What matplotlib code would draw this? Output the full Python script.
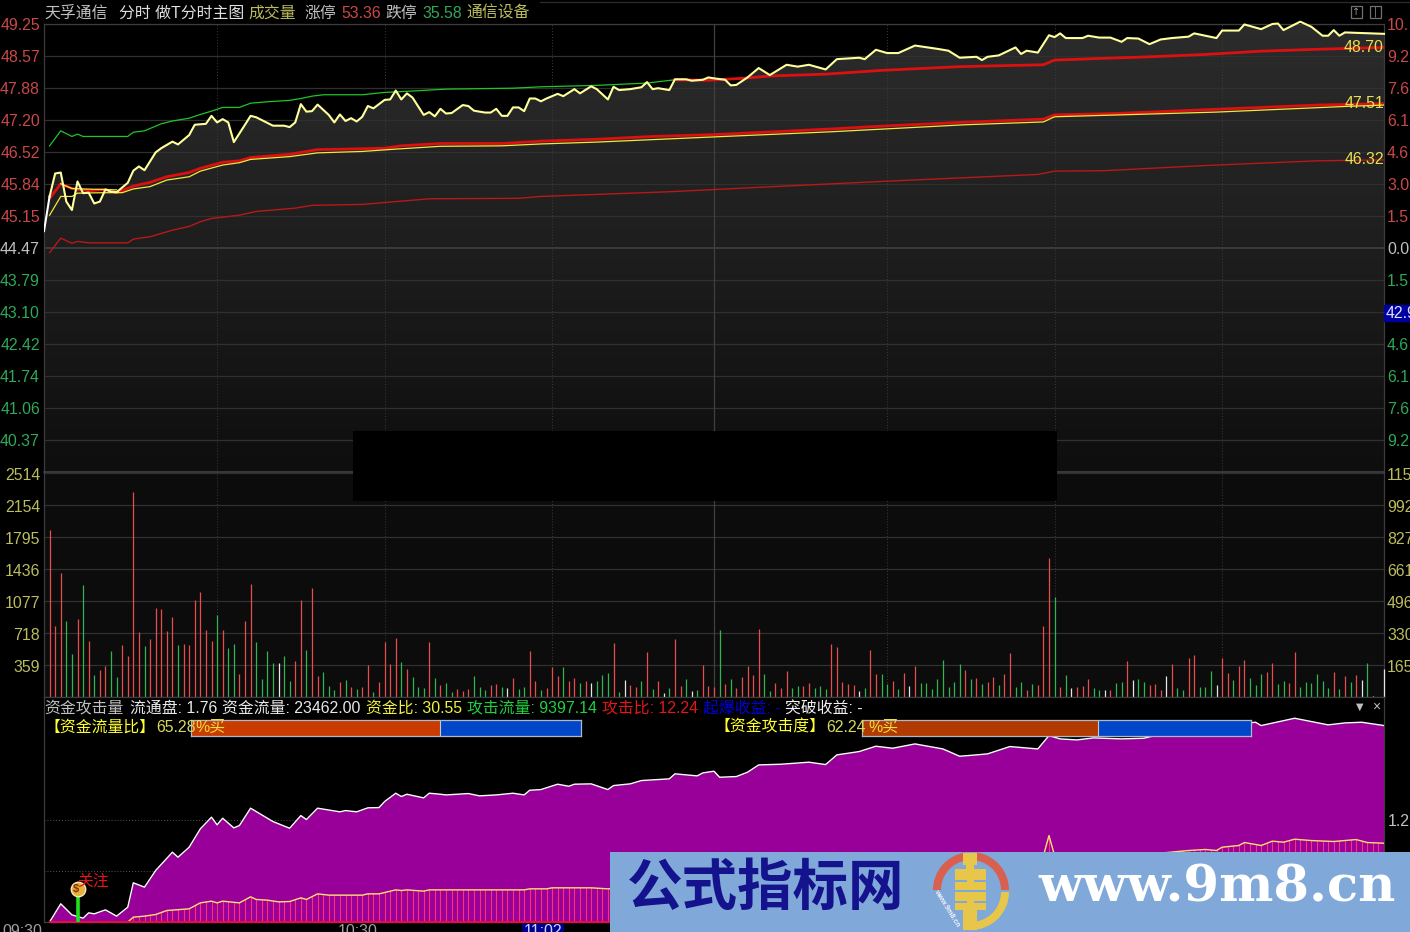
#!/usr/bin/env python3
# intraday chart: price panel, volume panel, fund attack panel
import numpy as np
import matplotlib; matplotlib.use('Agg')
import matplotlib.pyplot as plt
from matplotlib.colors import LinearSegmentedColormap
from matplotlib.patches import Rectangle, Wedge

plt.rcParams['font.family'] = ['Liberation Sans', 'Noto Sans CJK SC', 'DejaVu Sans']

# price curve, minute since open / price
price_m = [0,1,2,3,4,5,6,7,8,9,10,11,12,13,15,16,17,18,20,21,23,24,26,27,29,30,31,32,33,34,36,37,38,41,43,44,45,46,47,48,49,
           51,52,53,54,55,56,57,58,59,61,62,63,64,65,66,68,69,70,71,72,73,75,76,77,79,80,81,82,83,84,85,86,87,88,89,
           90,92,93,95,96,98,99,101,102,103,105,107,108,109,110,112,113,115,116,118,119,120,122,123,124,126,128,130,133,135,137,140,
           142,146,147,149,151,153,156,160,162,164,167,168,169,171,174,175,176,178,180,181,182,183,186,187,189,191,193,194,196,198,200,202,205,206,
           210,211,214,215,218,220,221,222,225,227,229,230,231,232,233,240]
price = [44.83,45.57,46.06,46.08,45.46,45.28,45.89,45.64,45.65,45.42,45.46,45.72,45.67,45.66,45.86,46.12,46.21,46.13,46.51,46.60,46.74,46.68,46.88,47.10,47.12,47.29,47.15,47.22,47.15,46.73,47.10,47.29,47.26,47.08,47.08,47.05,47.15,47.54,47.38,47.39,47.53,
         47.31,47.15,47.32,47.18,47.24,47.17,47.27,47.50,47.45,47.63,47.64,47.83,47.64,47.77,47.68,47.31,47.37,47.28,47.44,47.34,47.35,47.52,47.50,47.40,47.36,47.36,47.44,47.29,47.29,47.47,47.47,47.39,47.66,47.66,47.60,
         47.66,47.76,47.71,47.86,47.77,47.92,47.86,47.64,47.91,47.84,47.86,47.90,48.01,47.86,47.88,47.84,48.07,48.07,48.04,48.06,48.11,48.09,48.06,47.94,47.95,48.11,48.31,48.16,48.38,48.34,48.38,48.28,
         48.50,48.53,48.50,48.70,48.63,48.63,48.79,48.72,48.68,48.53,48.55,48.48,48.55,48.58,48.75,48.61,48.68,48.64,49.01,48.97,49.05,48.95,48.95,49.00,48.96,48.96,48.87,48.95,48.94,48.82,48.92,48.95,48.98,49.05,
         48.95,49.11,49.11,49.24,49.14,49.25,49.26,49.12,49.30,49.19,49.00,49.00,49.12,49.00,49.07,49.04]

up_green_m = [1,3,5,6,7,15,16,18,21,23,26,28,30,32,35,37,40,44,46,48,50,57,61,66,72,84,89,99,108,113]
up_green = [46.65,46.97,46.85,46.90,46.85,46.85,46.94,46.97,47.12,47.18,47.24,47.32,47.39,47.47,47.47,47.56,47.59,47.62,47.66,47.71,47.74,47.74,47.79,47.82,47.86,47.88,47.91,47.94,47.99,48.06]
up_red_m = [113,119,125,130,140,150,164,179,181,188,198,208,218,228,240]
up_red = [48.06,48.05,48.09,48.14,48.18,48.26,48.34,48.38,48.48,48.51,48.55,48.60,48.67,48.71,48.75]
mid_red_m = [1,3,5,8,11,13,16,19,22,26,28,32,35,37,41,44,49,54,61,64,71,82,89,99,109,120,129,141,150,164,179,181,192,212,228,240]
mid_red = [45.53,45.84,45.74,45.69,45.72,45.65,45.79,45.87,45.99,46.08,46.17,46.30,46.33,46.40,46.44,46.47,46.57,46.58,46.60,46.65,46.70,46.70,46.75,46.79,46.85,46.89,46.94,47.01,47.07,47.15,47.22,47.31,47.34,47.44,47.52,47.55]
avg_m = [1,3,5,6,11,14,16,19,22,26,28,32,35,37,44,49,57,63,71,82,89,99,118,141,165,179,181,210,233,240]
avg = [45.17,45.57,45.57,45.64,45.65,45.65,45.73,45.78,45.92,45.99,46.11,46.24,46.29,46.36,46.42,46.50,46.53,46.58,46.64,46.65,46.69,46.73,46.83,46.95,47.10,47.16,47.27,47.37,47.49,47.52]
avg2_m = [3,5,7,13]
avg2 = [45.84,45.74,45.73,45.71]
low_m = [1,3,5,6,8,15,16,19,23,26,28,30,35,38,45,48,57,64,69,85,89,112,129,150,178,181,190,208,228,240]
low = [44.37,44.68,44.57,44.61,44.58,44.58,44.66,44.71,44.85,44.93,45.03,45.10,45.17,45.25,45.32,45.38,45.40,45.47,45.52,45.53,45.57,45.67,45.77,45.89,46.04,46.11,46.12,46.23,46.33,46.35]

volume = [1877,793,1391,856,486,879,1257,632,250,307, 352,520,228,587,464,2304,733,576,654,999,
          987,744,898,587,598,587,1085,1178,755,632, 924,755,553,598,262,856,1272,617,202,520,
          385,385,464,183,408,1085,531,1227,239,284, 127,82,172,194,116,93,116,363,60,172,
          613,374,666,396,318,228,116,105,613,217, 138,161,60,93,71,93,239,116,82,138,
          150,116,105,217,93,116,520,183,82,105, 340,239,340,183,217,161,183,161,183,250,
          273,610,60,194,138,116,183,509,93,183, 49,105,654,127,206,71,82,
          363,127,116,755,150,206,105,228,352,250, 767,262,71,161,105,295,105,127,127,161,
          105,127,93,598,565,172,150,138,71,105, 531,262,262,150,183,93,273,127,352,161,
          161,93,206,419,116,172,374,307,206,217, 150,172,228,138,262,497,116,172,82,150,
          138,800,1563,1126,116,250,105,116,127,206, 105,82,82,82,161,172,408,194,206,172,
          138,150,82,239,374,105,82,441,475,116, 116,295,138,441,273,194,352,419,217,138,
          262,284,385,150,183,161,509,116,172,161, 262,183,105,284,93,239,172,250,194,385,
          15,0,318]
vol_dir = ('rrrggrgrgr' 'rggrrrrgrr' 'rrrgrrrrrr' 'grggrrrggg' 'gwggrrgrrg' 'ggrgrgrrgr'
           'rrrgrgggrg' 'rggrrrgggr' 'rgwrggrrgr' 'rrgrrgrwgg' 'grgwrrgrgr' 'wgrrgwg'
           'rrrgrgrrrr' 'rggrrrggrr' 'gggrrrrrwg' 'rrggrgrwrg' 'gggggggrgr' 'grrgrrggrg'
           'rrrgrgwrrr' 'ggwrggrwgg' 'rrrwrggrrg' 'ggwrrgrrgg' 'grrggrrggg' 'gggrgrgrwg' 'www')

flow_m = [1,3,5,7,8,9,11,13,15,16,18,20,23,24,26,28,30,31,32,34,35,37,41,44,46,47,49,53,54,56,58,60,61,63,64,65,68,69,71,72,76,78,81,84,86,87,89,92,94,95,98,101,102,105,107,112,113,117,
          118,120,121,124,126,128,132,137,140,142,146,149,152,156,161,164,167,169,173,178,180,182,185,188,193,197,204,217,218,224,230,233,236,240]
flow = [0,0.214,0.084,0.045,0.108,0.096,0.143,0.069,0.174,0.461,0.410,0.606,0.821,0.762,0.880,1.096,1.233,1.143,1.221,1.107,1.135,1.339,1.182,1.103,1.252,1.205,1.339,1.296,1.311,1.296,1.343,1.346,1.417,1.515,1.476,1.503,1.460,1.515,1.503,1.495,1.511,1.484,1.495,1.515,1.495,1.550,1.558,1.621,1.597,1.621,1.625,1.558,1.605,1.625,1.664,1.684,1.743,1.719,
        1.754,1.774,1.703,1.711,1.762,1.848,1.856,1.880,1.852,1.966,2.005,2.068,2.044,2.095,2.036,1.950,1.966,1.978,2.064,2.036,2.193,2.154,2.142,2.166,2.154,2.162,2.272,2.350,2.311,2.397,2.319,2.342,2.350,2.311]
attack_m = [15,16,18,20,22,26,28,30,31,32,35,37,38,40,42,44,46,47,49,51,57,58,60,63,64,65,68,69,86,87,90,91,98,101,
            120,150,178,179,180,181,182,195,205,208,210,211,214,215,218,220,222,224,227,231,235,237,240]
attack = [0,0.057,0.069,0.088,0.135,0.155,0.225,0.245,0.225,0.245,0.225,0.296,0.265,0.257,0.237,0.241,0.284,0.265,0.331,0.316,0.316,0.331,0.331,0.378,0.370,0.378,0.363,0.378,0.378,0.390,0.390,0.402,0.402,0.390,
          0.50,0.65,0.76,0.78,1.017,0.78,0.76,0.78,0.841,0.853,0.841,0.880,0.900,0.935,0.900,0.951,0.939,0.974,0.958,0.947,0.970,0.935,0.927]

left_prices = ['49.25','48.57','47.88','47.20','46.52','45.84','45.15','44.47','43.79','43.10','42.42','41.74','41.06','40.37']
right_pcts = ['10.','9.2','7.6','6.1','4.6','3.0','1.5','0.0','1.5','','4.6','6.1','7.6','9.2']
vol_ticks = [2514,2154,1795,1436,1077,718,359]
right_vol = ['115','992','827','661','496','330','165']
bar_shares = [63.8, 60.7]
bar_total = 100

W, H = 1410, 932
BG = '#000000'
GRID = '#303030'
def box(l, t, r, b):
    return [l/W, 1-b/H, (r-l)/W, (b-t)/H]

fig = plt.figure(figsize=(14.10, 9.32), dpi=100, facecolor=BG)
ax_p = fig.add_axes(box(44, 24, 1384, 472), facecolor=BG)
ax_v = fig.add_axes(box(44, 472, 1384, 697), facecolor='#0c0c0c')
ax_s = fig.add_axes(box(44, 697, 1384, 922), facecolor=BG)
for a in (ax_p, ax_v, ax_s):
    a.set_xlim(0, 240)
    a.set_xticks([]); a.set_yticks([])
    for s in a.spines.values():
        s.set_color('#3c3c3c'); s.set_linewidth(0.9)

# price panel
step = 0.6829
ax_p.set_ylim(49.25-14*step, 49.25)
cmap = LinearSegmentedColormap.from_list('shade', ['#2c2c2c', '#1e1e1e', '#0e0e0e'])
poly = ax_p.fill_between(price_m, price, 30, color='none', lw=0)
grad = ax_p.imshow(np.linspace(0, 1, 256).reshape(-1, 1), cmap=cmap, aspect='auto',
                   extent=(0, 240, 49.25-14*step, 49.4), origin='upper', zorder=1)
ax_p.set_xlim(0, 240); ax_p.set_ylim(49.25-14*step, 49.25)
grad.set_clip_path(poly.get_paths()[0], transform=ax_p.transData)
for i in range(14):
    ax_p.axhline(49.25-i*step, color='#404040' if i == 7 else GRID, lw=1.2 if i == 7 else 0.9, zorder=2)
ax_v.spines['top'].set_color('#404040'); ax_v.spines['top'].set_linewidth(1.2)
for a in (ax_p, ax_v):
    for m in (31, 61, 91, 151, 181, 211):
        a.axvline(m, color='#3c3c3c', lw=0.7, ls=(0, (1, 2)), zorder=2)
    a.axvline(120, color='#404040', lw=0.9, zorder=2)
ax_p.plot(low_m, low, color='#b81818', lw=1.0, zorder=3)
ax_p.plot(up_green_m, up_green, color='#20c428', lw=0.9, zorder=3)
ax_p.plot(up_red_m, up_red, color='#dc1010', lw=2.0, zorder=3)
ax_p.plot(mid_red_m, mid_red, color='#dc1010', lw=2.0, zorder=3)
ax_p.plot(avg_m, avg, color='#f4e83c', lw=0.9, zorder=4)
ax_p.plot(avg2_m, avg2, color='#f4e83c', lw=0.9, zorder=4)
ax_p.plot(price_m[1:], price[1:], color='#ffff9c', lw=1.5, zorder=5, clip_on=False)
ax_p.plot(price_m[:2], price[:2], color='#ffffff', lw=1.5, zorder=5)

# volume panel
ax_v.set_ylim(0, 225/32*359)
for v in vol_ticks:
    ax_v.axhline(v, color=GRID, lw=0.9, zorder=1)
vol_cols = {'r': '#e84c4c', 'g': '#2fb552', 'w': '#e6e6e6'}
ax_v.vlines(np.arange(1, len(volume)+1), 0, volume, colors=[vol_cols[c] for c in vol_dir], lw=0.9, zorder=3, clip_on=False)

# fund panel
ax_s.set_ylim(0, 225*1.2/102)
for v in (0.6, 1.2):
    ax_s.axhline(v, color='#555555', lw=0.7, ls=(0, (1, 2)), zorder=1)
ax_s.fill_between(flow_m, flow, 0, color='#990099', lw=0, zorder=2)
ax_s.plot(flow_m, flow, color='#ffffff', lw=1.0, zorder=3)
under = ax_s.fill_between(attack_m, attack, 0, color='none', lw=0, zorder=3)
stems = ax_s.vlines(np.arange(15, 241), 0, 2.0, colors='#ff2f78', lw=0.8, zorder=3)
stems.set_clip_path(under.get_paths()[0], transform=ax_s.transData)
ax_s.plot(attack_m, attack, color='#ffe070', lw=1.0, zorder=4)
ax_s.plot([1, 240], [0, 0], color='#e0104a', lw=1.6, zorder=5, clip_on=False)
ax_s.vlines(6, 0, 0.33, colors='#20e020', lw=2.6, zorder=6)
ax_s.scatter([6], [0.39], s=110, color='#e8b040', edgecolors='#fff0c0', lw=0.9, zorder=7)

# everything below: texts and decoration placed in pixels
ov = fig.add_axes([0, 0, 1, 1], facecolor='none')
ov.set_xlim(0, W); ov.set_ylim(H, 0); ov.axis('off')
DY = 2  # text sits a little low in the original
def put(x, y, s, c, fs=11.4, ha='left', **kw):
    ov.text(x, y+DY, s, color=c, fontsize=fs, ha=ha, va='center', **kw)

RED, GREEN, OLIVE, GRAY = '#c84848', '#2fa858', '#bcbc5c', '#c0c0c0'
for i, s in enumerate(left_prices):
    y = 24+i*32
    put(40, y, s, GRAY if i == 7 else (RED if i < 7 else GREEN), ha='right')
    if s and right_pcts[i]:
        put(1387, y, right_pcts[i], GRAY if i == 7 else (RED if i < 7 else GREEN))
for i, v in enumerate(vol_ticks):
    y = 473.5+i*32
    put(40, y, str(v), OLIVE, ha='right')
    put(1387, y, right_vol[i], OLIVE)
put(1388, 820, '1.2', GRAY)
ov.add_patch(Rectangle((1384, 305), 26, 16, color='#0000a0', zorder=3))
put(1386, 311, '42.9', '#e0e0ff', zorder=4)
ov.plot([540, 1410], [1.5, 1.5], color='#2c2c2c', lw=0.9)

# black mask over the middle of the chart
ov.add_patch(Rectangle((353, 431), 704, 70, color='#000000', lw=0, zorder=2))

put(44, 11, '天孚通信', GRAY)
put(119, 11, '分时 做T分时主图', '#e0e0e0')
put(248, 11, '成交量', OLIVE)
put(304, 11, '涨停', GRAY)
put(341, 11, '53.36', RED)
put(385, 11, '跌停', GRAY)
put(422, 11, '35.58', GREEN)
put(466, 11, '通信设备', OLIVE)
for x, s in [(1351, '↑'), (1370, '|')]:
    ov.add_patch(Rectangle((x, 6), 11, 12, fill=False, ec='#707070', lw=0.9, zorder=3))
    ov.text(x+5.5, 12, s, color='#909090', fontsize=7, ha='center', va='center', family='DejaVu Sans', zorder=3)
for y, s in [(46, '48.70'), (102, '47.51'), (158, '46.32')]:
    put(1384, y, s, '#e8e050', ha='right', zorder=6)

put(44, 706, '资金攻击量', GRAY)
put(130, 706, '流通盘: 1.76', '#e8e8e8')
put(222, 706, '资金流量: 23462.00', '#e8e8e8')
put(366, 706, '资金比: 30.55', '#f0f040')
put(467, 706, '攻击流量: 9397.14', '#20d040')
put(602, 706, '攻击比: 12.24', '#e01818')
put(703, 706, '起爆收益: -', '#0000d8')
put(785, 706, '突破收益: -', '#f0f0f0')
put(1360, 705, '▼', '#c0c0c0', fs=7, ha='center', family='DejaVu Sans')
put(1376, 705, '×', '#c0c0c0', fs=10, ha='center')

# buy/sell bars
for (l, r, share, col) in [(191, 581, bar_shares[0], '#c83c00'), (862, 1251, bar_shares[1], '#b03a00')]:
    ax_b = fig.add_axes(box(l, 720, r, 736), facecolor='#0046c8', zorder=5)
    ax_b.set_xlim(0, bar_total); ax_b.set_ylim(0, 1)
    ax_b.barh(0.5, share, height=1, color=col, lw=0)
    ax_b.axvline(share, color='#c8c8c8', lw=0.8)
    ax_b.set_xticks([]); ax_b.set_yticks([])
    for s in ax_b.spines.values():
        s.set_color('#b0b8c8'); s.set_linewidth(0.9)
ov_t = fig.add_axes([0, 0, 1, 1], facecolor='none', zorder=6)
ov_t.set_xlim(0, W); ov_t.set_ylim(H, 0); ov_t.axis('off')
def put2(x, y, s, c, fs=11.4, ha='left', **kw):
    ov_t.text(x, y+DY, s, color=c, fontsize=fs, ha=ha, va='center', **kw)
put2(44, 725, '【资金流量比】', '#ffff30')
put2(156, 725, '65.28', '#d8d860')
put2(195, 725, '%买', '#f0e040')
put2(714, 725, '【资金攻击度】', '#ffff30')
put2(826, 725, '62.24', '#d8d860')
put2(868, 725, '%买', '#f0e040')
put2(77, 879, '关注', '#e01818')
put2(76, 887, '$', '#803000', fs=8, ha='center', fontweight='bold')
put2(22, 929, '09:30', '#a0a0a0', ha='center')
put2(358, 929, '10:30', '#a0a0a0', ha='center')
ov_t.add_patch(Rectangle((522, 924), 42, 8, color='#000090', lw=0))
put2(543, 929, '11:02', '#d0d0ff', ha='center')

# watermark
GOLD = '#e8c64a'
ov_t.add_patch(Rectangle((610, 852), 800, 80, color='#80a9d9', lw=0, zorder=3))
ov_t.text(627, 889, '公式指标网', color='#14128c', fontsize=40, fontfamily=['Noto Sans CJK SC'],
          fontweight='bold', va='center', ha='left', zorder=4)
ov_t.text(1217, 888, 'www.9m8.cn', color='#ffffff', fontsize=37, fontfamily=['DejaVu Serif'],
          fontweight='bold', va='center', ha='center', zorder=4)
ov_t.add_patch(Wedge((971, 890), 38, 180, 261, width=8, color='#d9604e', lw=0, zorder=4))
ov_t.add_patch(Wedge((971, 890), 38, 279, 360, width=8, color='#d9604e', lw=0, zorder=4))
ov_t.add_patch(Wedge((971, 892), 38, 0, 90, width=8, color=GOLD, lw=0, zorder=4))
for (x0, y0, w, h) in [(963, 853, 14, 12), (966, 864, 8, 6), (955, 869, 31, 21), (955, 892, 31, 18), (963, 910, 14, 20)]:
    ov_t.add_patch(Rectangle((x0, y0), w, h, color=GOLD, lw=0, zorder=5))
for y in (880, 901):
    ov_t.add_patch(Rectangle((955, y), 12, 1.6, color='#80a9d9', lw=0, zorder=6))
    ov_t.add_patch(Rectangle((974, y), 12, 1.6, color='#80a9d9', lw=0, zorder=6))
ov_t.text(947, 908, 'www.9m8.cn', color='#f4f4f4', fontsize=5, fontweight='bold', rotation=-58, ha='center', va='center', zorder=6)

fig.savefig('out.png', dpi=100, facecolor=BG)
